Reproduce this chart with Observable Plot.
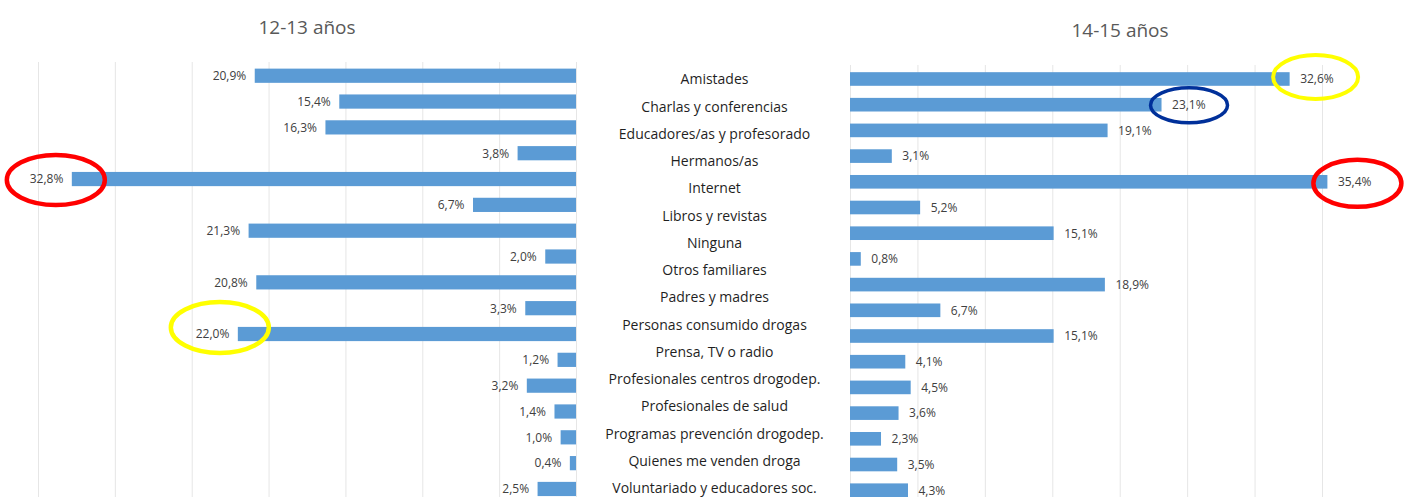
<!DOCTYPE html>
<html><head><meta charset="utf-8">
<script src="https://cdn.jsdelivr.net/npm/d3@7"></script>
<script src="https://cdn.jsdelivr.net/npm/@observablehq/plot@0.6"></script>
<style>
html,body{margin:0;padding:0;background:#fff;overflow:hidden}
#chart{position:relative;width:1411px;height:497px;font-family:"Open Sans",sans-serif;overflow:hidden}
#chart svg{position:absolute;left:0;top:0}
.title{position:absolute;font-size:19px;color:#595959;transform:translate(-50%,-50%);white-space:nowrap}
</style></head><body><div id="chart"></div>
<script>
const panelTitles = ["12-13 años", "14-15 años"];
const categories = [
  "Amistades", "Charlas y conferencias", "Educadores/as y profesorado", "Hermanos/as",
  "Internet", "Libros y revistas", "Ninguna", "Otros familiares", "Padres y madres",
  "Personas consumido drogas", "Prensa, TV o radio", "Profesionales centros drogodep.",
  "Profesionales de salud", "Programas prevención drogodep.", "Quienes me venden droga",
  "Voluntariado y educadores soc."
];
const values1213 = [20.9, 15.4, 16.3, 3.8, 32.8, 6.7, 21.3, 2.0, 20.8, 3.3, 22.0, 1.2, 3.2, 1.4, 1.0, 0.4, 2.5];
const values1415 = [32.6, 23.1, 19.1, 3.1, 35.4, 5.2, 15.1, 0.8, 18.9, 6.7, 15.1, 4.1, 4.5, 3.6, 2.3, 3.5, 4.3];
const gridTicks = [0, 5, 10, 15, 20, 25, 30, 35];
const highlightRows1213 = [4, 10];
const highlightRows1415 = [0, 1, 4];

// annotation styles (hand-drawn ellipses)
const ellipseStyle1213 = [
  {stroke: "#ff0000", dx: -16, dy: 1, rx: 49, ry: 25, sw: 4.5},
  {stroke: "#ffff00", dx: -18, dy: -6.5, rx: 49, ry: 25.5, sw: 4.5}
];
const ellipseStyle1415 = [
  {stroke: "#ffff00", dx: 26, dy: -2, rx: 42.5, ry: 22, sw: 4},
  {stroke: "#00309a", dx: 27.5, dy: 0.5, rx: 38.5, ry: 17.5, sw: 3.5},
  {stroke: "#ff0000", dx: 30, dy: 1.5, rx: 44, ry: 23.5, sw: 4.5}
];

const W = 1411, H = 497;
const FONT = '"Open Sans", sans-serif';
const BLUE = "#5b9bd5";
const GRID = "#e6e6e6";
const fmt = v => v.toFixed(1).replace(".", ",") + "%";

function ellipseMark(rowsArr, vals, styles) {
  return Plot.dot(rowsArr, {
    x: r => vals[r], y: r => r,
    render(index, scales, v) {
      const g = d3.create("svg:g");
      const half = scales.y && scales.y.bandwidth ? scales.y.bandwidth() / 2 : 0;
      for (const i of index) {
        const s = styles[i];
        g.append("ellipse")
          .attr("cx", v.x[i] + s.dx).attr("cy", v.y[i] + half + s.dy)
          .attr("rx", s.rx).attr("ry", s.ry)
          .attr("fill", "none").attr("stroke", s.stroke).attr("stroke-width", s.sw);
      }
      return g.node();
    }
  });
}

function panel(vals, {xRange, yRange, padding, top, side, hlRows, hlStyles}) {
  const rows = d3.range(vals.length);
  return Plot.plot({
    width: W, height: H,
    marginTop: top, marginBottom: 0, marginLeft: 0, marginRight: 0,
    x: {domain: [0, 35], range: xRange, axis: null},
    y: {type: "band", domain: rows, range: yRange, padding, round: false, axis: null},
    style: {fontFamily: FONT, background: "transparent", overflow: "visible"},
    marks: [
      Plot.ruleX(gridTicks, {stroke: GRID, strokeWidth: 1}),
      Plot.barX(rows, {x: r => vals[r], y: r => r, fill: BLUE}),
      Plot.text(rows, {
        x: r => vals[r], y: r => r, text: r => fmt(vals[r]),
        textAnchor: side === "left" ? "end" : "start", dx: side === "left" ? -9 : 10,
        fill: "#404040", fontSize: 12
      }),
      ellipseMark(hlRows, vals, hlStyles)
    ]
  });
}

const chart = document.getElementById("chart");

chart.appendChild(panel(values1213, {
  xRange: [576, 38], yRange: [57, 507.7], padding: 0.45, top: 62, side: "left",
  hlRows: highlightRows1213, hlStyles: ellipseStyle1213
}));

chart.appendChild(panel(values1415, {
  xRange: [850, 1322], yRange: [60.1, 509.1], padding: 0.47, top: 65, side: "right",
  hlRows: highlightRows1415, hlStyles: ellipseStyle1415
}));

chart.appendChild(Plot.plot({
  width: W, height: H,
  marginTop: 0, marginBottom: 0, marginLeft: 17, marginRight: 0,
  y: {type: "band", domain: categories, range: [65.7, 501.7], padding: 0, round: false, axis: null},
  style: {fontFamily: FONT, background: "transparent", overflow: "visible"},
  marks: [
    Plot.text(categories, {y: d => d, text: d => d, fontSize: 14, fill: "#1f1f1f"})
  ]
}));

const titlePos = [[307, 27], [1120, 30]];
panelTitles.forEach((t, i) => {
  const d = document.createElement("div");
  d.className = "title";
  d.textContent = t;
  d.style.left = titlePos[i][0] + "px";
  d.style.top = titlePos[i][1] + "px";
  chart.appendChild(d);
});
</script>
</body></html>
